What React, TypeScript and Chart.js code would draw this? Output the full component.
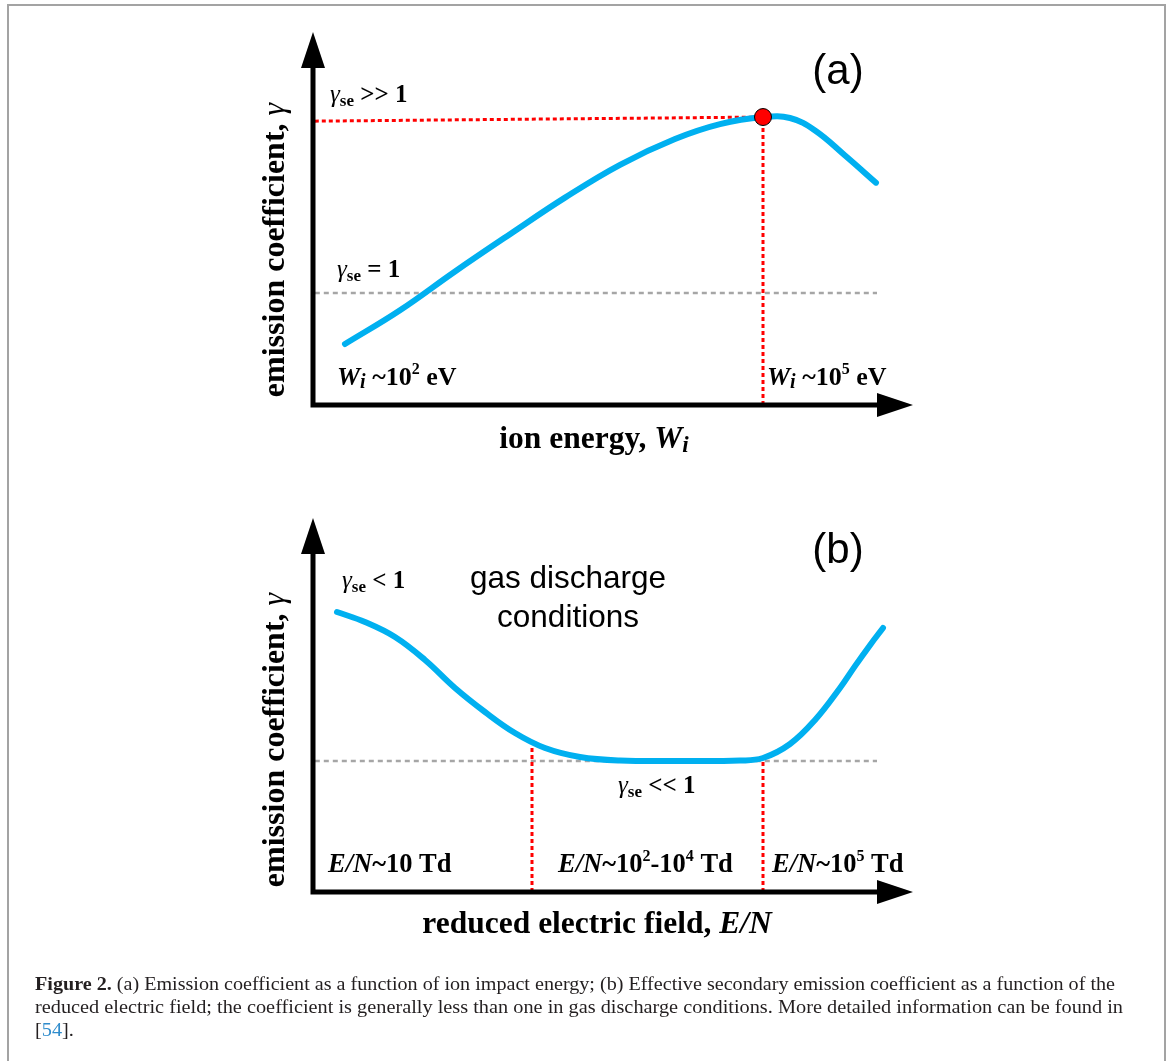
import { useEffect, useRef } from "react";
import { Chart, registerables } from "chart.js";

Chart.register(...registerables);

// ---- Panel (a): emission coefficient vs. ion energy (arbitrary units) ----
const ionEnergyX = [5.33, 14.5, 23.67, 32.83, 42.0, 51.17, 60.33, 67.83, 75.0, 79.5, 83.67, 88.67, 93.83];
const gammaIon = [16.35, 25.4, 35.8, 45.8, 55.6, 64.4, 71.3, 75.3, 77.2, 76.94, 73.6, 66.9, 59.6];
const peakIndexA = 8; // maximum of the curve, W_i ~ 10^5 eV
const peakGuideStartY = 76.1; // left end of the red guide to the maximum
const unityLevelA = 30.0; // gamma_se = 1
const unityExtentA = [0.3, 94.0];

// ---- Panel (b): effective coefficient vs. reduced electric field ----
const fieldX = [4.0, 8.67, 13.67, 18.67, 23.67, 28.67, 33.67, 38.67, 44.5, 51.17, 61.17, 71.17, 75.0, 79.5, 83.67, 87.83, 90.33, 92.83, 95.0];
const gammaField = [74.87, 72.19, 68.18, 62.03, 54.55, 48.13, 42.51, 38.5, 36.1, 35.16, 35.03, 35.16, 35.83, 39.57, 45.99, 54.55, 60.4, 66.0, 70.59];
const regionBoundsX = [36.5, 75.0]; // E/N ~ 10^2 and ~10^5 Td boundaries
const regionBoundsTopY = [39.3, 35.6];
const lowLevelB = 35.0; // gamma_se << 1
const lowExtentB = [0.3, 94.0];

const SERIF = '"Liberation Serif", "Times New Roman", serif';
const SANS = '"Liberation Sans", Arial, sans-serif';
const BLUE = "#00b0f0";
const RED = "#ff0000";
const GREY = "#a6a6a6";

type Seg = { t: string; f: string; dy?: number; c?: string };

function measureRich(ctx: CanvasRenderingContext2D, segs: Seg[]) {
  let w = 0;
  for (const s of segs) {
    ctx.font = s.f;
    w += ctx.measureText(s.t).width;
  }
  return w;
}

function drawRich(ctx: CanvasRenderingContext2D, segs: Seg[], x: number, y: number, align: "left" | "center" = "left") {
  const w = measureRich(ctx, segs);
  let cx = align === "center" ? x - w / 2 : x;
  ctx.textAlign = "left";
  ctx.textBaseline = "alphabetic";
  for (const s of segs) {
    ctx.font = s.f;
    ctx.fillStyle = s.c ?? "#000";
    ctx.fillText(s.t, cx, y + (s.dy ?? 0));
    cx += ctx.measureText(s.t).width;
  }
}

const gammaLabel = (rest: string, size: number): Seg[] => [
  { t: "γ", f: `italic ${size}px ${SERIF}` },
  { t: "se", f: `bold ${Math.round(size * 0.66)}px ${SERIF}`, dy: 4 },
  { t: rest, f: `bold ${size}px ${SERIF}` },
];

const energyLabel = (exp: string): Seg[] => [
  { t: "W", f: `italic bold 26px ${SERIF}` },
  { t: "i", f: `italic bold 20px ${SERIF}`, dy: 3 },
  { t: " ~10", f: `bold 26px ${SERIF}` },
  { t: exp, f: `bold 16px ${SERIF}`, dy: -11 },
  { t: " eV", f: `bold 26px ${SERIF}` },
];

const LBL = 26.5;
const fieldLabel = (parts: Seg[]): Seg[] => [
  { t: "E/N", f: `italic bold ${LBL}px ${SERIF}` },
  ...parts,
];

const yTitle: Seg[] = [
  { t: "emission coefficient, ", f: `bold 32px ${SERIF}` },
  { t: "γ", f: `italic 32px ${SERIF}` },
];

function drawYTitle(ctx: CanvasRenderingContext2D, x: number, y: number) {
  ctx.save();
  ctx.translate(x, y);
  ctx.rotate(-Math.PI / 2);
  drawRich(ctx, yTitle, 0, 0, "center");
  ctx.restore();
}

// Black axes with arrowheads along the left and bottom of the plot area
const axisArrows = {
  id: "axisArrows",
  afterDatasetsDraw(chart: any) {
    const { ctx, chartArea } = chart;
    const { left, right, top, bottom } = chartArea;
    ctx.save();
    ctx.strokeStyle = "#000";
    ctx.fillStyle = "#000";
    ctx.lineWidth = 5;
    ctx.lineCap = "butt";
    ctx.beginPath();
    ctx.moveTo(left, bottom + 2.5);
    ctx.lineTo(left, top + 30);
    ctx.moveTo(left - 2.5, bottom);
    ctx.lineTo(right - 30, bottom);
    ctx.stroke();
    ctx.beginPath();
    ctx.moveTo(left, top);
    ctx.lineTo(left - 12, top + 36);
    ctx.lineTo(left + 12, top + 36);
    ctx.closePath();
    ctx.moveTo(right, bottom);
    ctx.lineTo(right - 36, bottom - 12);
    ctx.lineTo(right - 36, bottom + 12);
    ctx.closePath();
    ctx.fill();
    ctx.restore();
  },
};

const labelsA = {
  id: "labelsA",
  afterDraw(chart: any) {
    const ctx: CanvasRenderingContext2D = chart.ctx;
    ctx.save();
    ctx.font = `42px ${SANS}`;
    ctx.fillStyle = "#000";
    ctx.textAlign = "center";
    ctx.fillText("(a)", 838, 84);
    drawRich(ctx, gammaLabel(" >> 1", 25), 330, 102);
    drawRich(ctx, gammaLabel(" = 1", 25), 337, 277);
    drawRich(ctx, energyLabel("2"), 337, 385);
    drawRich(ctx, energyLabel("5"), 767, 385);
    drawRich(
      ctx,
      [
        { t: "ion energy, ", f: `bold 31.5px ${SERIF}` },
        { t: "W", f: `italic bold 31.5px ${SERIF}` },
        { t: "i", f: `italic bold 23px ${SERIF}`, dy: 4 },
      ],
      594,
      448,
      "center"
    );
    drawYTitle(ctx, 284, 250);
    ctx.restore();
  },
};

const captionLine1: Seg[] = [
  { t: "Figure 2.", f: `bold 18px ${SERIF}`, c: "#231f20" },
  {
    t: " (a) Emission coefficient as a function of ion impact energy; (b) Effective secondary emission coefficient as a function of the",
    f: `18px ${SERIF}`,
    c: "#231f20",
  },
];
const captionLine2: Seg[] = [
  {
    t: "reduced electric field; the coefficient is generally less than one in gas discharge conditions. More detailed information can be found in",
    f: `18px ${SERIF}`,
    c: "#231f20",
  },
];
const captionLine3: Seg[] = [
  { t: "[", f: `18px ${SERIF}`, c: "#231f20" },
  { t: "54", f: `18px ${SERIF}`, c: "#2f8ccc" },
  { t: "].", f: `18px ${SERIF}`, c: "#231f20" },
];

const labelsB = {
  id: "labelsB",
  afterDraw(chart: any) {
    const ctx: CanvasRenderingContext2D = chart.ctx;
    ctx.save();
    ctx.font = `42px ${SANS}`;
    ctx.fillStyle = "#000";
    ctx.textAlign = "center";
    ctx.fillText("(b)", 838, 83);
    ctx.font = `31.5px ${SANS}`;
    ctx.fillText("gas discharge", 568, 108);
    ctx.fillText("conditions", 568, 147);
    drawRich(ctx, gammaLabel(" < 1", 25), 342, 108);
    drawRich(ctx, gammaLabel(" << 1", 25), 618, 313);
    const bl = `bold ${LBL}px ${SERIF}`;
    const sup = `bold 16px ${SERIF}`;
    drawRich(ctx, fieldLabel([{ t: "~10 Td", f: bl }]), 328, 392);
    drawRich(
      ctx,
      fieldLabel([
        { t: "~10", f: bl },
        { t: "2", f: sup, dy: -11 },
        { t: "-10", f: bl },
        { t: "4", f: sup, dy: -11 },
        { t: " Td", f: bl },
      ]),
      558,
      392
    );
    drawRich(
      ctx,
      fieldLabel([
        { t: "~10", f: bl },
        { t: "5", f: sup, dy: -11 },
        { t: " Td", f: bl },
      ]),
      772,
      392
    );
    drawRich(
      ctx,
      [
        { t: "reduced electric field, ", f: `bold 31.5px ${SERIF}` },
        { t: "E/N", f: `italic bold 31.5px ${SERIF}` },
      ],
      597,
      453,
      "center"
    );
    drawYTitle(ctx, 284, 260);

    // figure caption, set in a condensed serif
    const s1 = 1080 / measureRich(ctx, captionLine1);
    const s2 = 1088 / measureRich(ctx, captionLine2);
    const lines: [Seg[], number, number][] = [
      [captionLine1, s1, 510],
      [captionLine2, s2, 533],
      [captionLine3, s2, 556],
    ];
    for (const [segs, sc, y] of lines) {
      ctx.save();
      ctx.translate(35, y);
      ctx.scale(sc, 1);
      drawRich(ctx, segs, 0, 0);
      ctx.restore();
    }
    ctx.restore();
  },
};

const baseOptions = (padding: any) => ({
  responsive: false,
  animation: false as const,
  devicePixelRatio: 1,
  events: [],
  layout: { padding },
  scales: {
    x: { type: "linear" as const, min: 0, max: 100, display: false },
    y: { type: "linear" as const, min: 0, max: 100, display: false },
  },
  plugins: { legend: { display: false }, tooltip: { enabled: false } },
});

export default function App() {
  const refA = useRef<HTMLCanvasElement>(null);
  const refB = useRef<HTMLCanvasElement>(null);

  useEffect(() => {
    const curveA = ionEnergyX.map((x, i) => ({ x, y: gammaIon[i] }));
    const peak = { x: ionEnergyX[peakIndexA], y: gammaIon[peakIndexA] };
    const chartA = new Chart(refA.current!, {
      type: "line",
      data: {
        datasets: [
          {
            data: [peak],
            showLine: false,
            pointRadius: 8.5,
            pointBackgroundColor: RED,
            pointBorderColor: "#000",
            pointBorderWidth: 1,
            order: 0,
            clip: false,
          },
          {
            data: curveA,
            borderColor: BLUE,
            borderWidth: 6,
            borderCapStyle: "round",
            tension: 0.4,
            pointRadius: 0,
            order: 1,
            clip: false,
          },
          {
            data: [{ x: unityExtentA[0], y: peakGuideStartY }, peak],
            borderColor: RED,
            borderWidth: 3,
            borderDash: [4, 3],
            pointRadius: 0,
            order: 2,
            clip: false,
          },
          {
            data: [{ x: peak.x, y: 0 }, peak],
            borderColor: RED,
            borderWidth: 3,
            borderDash: [4, 3],
            pointRadius: 0,
            order: 2,
            clip: false,
          },
          {
            data: [
              { x: unityExtentA[0], y: unityLevelA },
              { x: unityExtentA[1], y: unityLevelA },
            ],
            borderColor: GREY,
            borderWidth: 2.5,
            borderDash: [5, 4],
            pointRadius: 0,
            order: 3,
            clip: false,
          },
        ],
      },
      options: baseOptions({ left: 313, right: 258, top: 32, bottom: 75 }) as any,
      plugins: [axisArrows, labelsA],
    });

    const curveB = fieldX.map((x, i) => ({ x, y: gammaField[i] }));
    const chartB = new Chart(refB.current!, {
      type: "line",
      data: {
        datasets: [
          {
            data: curveB,
            borderColor: BLUE,
            borderWidth: 6,
            borderCapStyle: "round",
            tension: 0.4,
            pointRadius: 0,
            order: 0,
            clip: false,
          },
          ...regionBoundsX.map((x, i) => ({
            data: [
              { x, y: 0 },
              { x, y: regionBoundsTopY[i] },
            ],
            borderColor: RED,
            borderWidth: 3,
            borderDash: [4, 3],
            pointRadius: 0,
            order: 1,
            clip: false,
          })),
          {
            data: [
              { x: lowExtentB[0], y: lowLevelB },
              { x: lowExtentB[1], y: lowLevelB },
            ],
            borderColor: GREY,
            borderWidth: 2.5,
            borderDash: [5, 4],
            pointRadius: 0,
            order: 2,
            clip: false,
          },
        ],
      },
      options: baseOptions({ left: 313, right: 258, top: 38, bottom: 169 }) as any,
      plugins: [axisArrows, labelsB],
    });

    return () => {
      chartA.destroy();
      chartB.destroy();
    };
  }, []);

  return (
    <div
      style={{
        position: "absolute",
        left: 0,
        top: 0,
        width: 1171,
        height: 1061,
        overflow: "hidden",
        background: "#fff",
      }}
    >
      <canvas
        ref={refA}
        width={1171}
        height={480}
        style={{ position: "absolute", left: 0, top: 0, width: 1171, height: 480 }}
      />
      <canvas
        ref={refB}
        width={1171}
        height={581}
        style={{ position: "absolute", left: 0, top: 480, width: 1171, height: 581 }}
      />
      <div
        style={{
          position: "absolute",
          left: 7,
          top: 4,
          width: 1159,
          height: 1080,
          boxSizing: "border-box",
          border: "2px solid #a3a3a3",
          pointerEvents: "none",
        }}
      />
    </div>
  );
}
